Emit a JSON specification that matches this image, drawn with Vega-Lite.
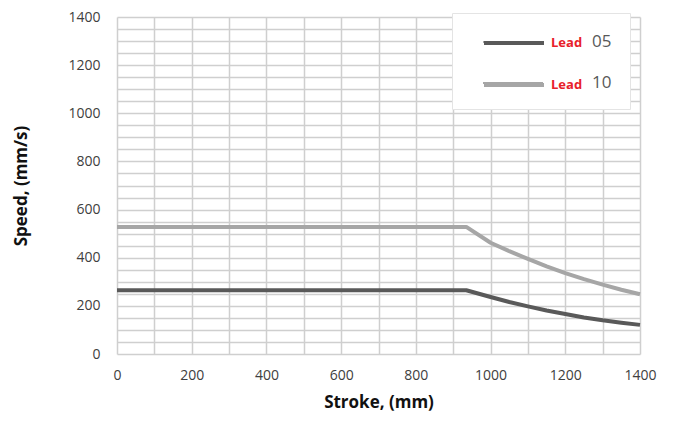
{
  "$schema": "https://vega.github.io/schema/vega-lite/v6.json",
  "width": 523,
  "height": 337,
  "autosize": "none",
  "padding": {"left": 117, "top": 17, "right": 35, "bottom": 70},
  "background": "white",
  "config": {
    "font": "Open Sans",
    "view": {"stroke": null}
  },
  "data": {
    "values": [
      {"series": "Lead 05", "num": "05", "stroke": 0, "speed": 265},
      {"series": "Lead 05", "num": "05", "stroke": 935, "speed": 265},
      {"series": "Lead 05", "num": "05", "stroke": 1000, "speed": 237},
      {"series": "Lead 05", "num": "05", "stroke": 1050, "speed": 216},
      {"series": "Lead 05", "num": "05", "stroke": 1100, "speed": 198},
      {"series": "Lead 05", "num": "05", "stroke": 1150, "speed": 181},
      {"series": "Lead 05", "num": "05", "stroke": 1200, "speed": 166},
      {"series": "Lead 05", "num": "05", "stroke": 1250, "speed": 152},
      {"series": "Lead 05", "num": "05", "stroke": 1300, "speed": 140},
      {"series": "Lead 05", "num": "05", "stroke": 1350, "speed": 130},
      {"series": "Lead 05", "num": "05", "stroke": 1400, "speed": 121},
      {"series": "Lead 10", "num": "10", "stroke": 0, "speed": 528},
      {"series": "Lead 10", "num": "10", "stroke": 935, "speed": 528},
      {"series": "Lead 10", "num": "10", "stroke": 1000, "speed": 462},
      {"series": "Lead 10", "num": "10", "stroke": 1050, "speed": 427},
      {"series": "Lead 10", "num": "10", "stroke": 1100, "speed": 395},
      {"series": "Lead 10", "num": "10", "stroke": 1150, "speed": 364},
      {"series": "Lead 10", "num": "10", "stroke": 1200, "speed": 336},
      {"series": "Lead 10", "num": "10", "stroke": 1250, "speed": 311},
      {"series": "Lead 10", "num": "10", "stroke": 1300, "speed": 288},
      {"series": "Lead 10", "num": "10", "stroke": 1350, "speed": 267},
      {"series": "Lead 10", "num": "10", "stroke": 1400, "speed": 248}
    ]
  },
  "mark": {"type": "line", "strokeWidth": 4, "interpolate": "linear", "strokeJoin": "round"},
  "encoding": {
    "x": {
      "field": "stroke", "type": "quantitative",
      "scale": {"domain": [0, 1400], "nice": false},
      "axis": {
        "title": "Stroke, (mm)",
        "values": [0,100,200,300,400,500,600,700,800,900,1000,1100,1200,1300,1400],
        "format": "d",
        "labelExpr": "datum.value % 200 === 0 ? datum.label : ''",
        "labelFlush": false,
        "domain": false, "ticks": false,
        "gridColor": "#cfcfcf", "gridWidth": 1.5,
        "labelFontSize": 14, "labelColor": "#404040", "labelPadding": 14,
        "titleFontSize": 17, "titleFontWeight": "bold", "titleColor": "#111111", "titlePadding": 12
      }
    },
    "y": {
      "field": "speed", "type": "quantitative",
      "scale": {"domain": [0, 1400], "nice": false},
      "axis": {
        "title": "Speed, (mm/s)",
        "values": [0,50,100,150,200,250,300,350,400,450,500,550,600,650,700,750,800,850,900,950,1000,1050,1100,1150,1200,1250,1300,1350,1400],
        "format": "d",
        "labelExpr": "datum.value % 200 === 0 ? datum.label : ''",
        "domain": false, "ticks": false,
        "gridColor": "#cfcfcf", "gridWidth": 1.5,
        "labelFontSize": 14, "labelColor": "#404040", "labelPadding": 17,
        "titleFontSize": 17, "titleFontWeight": "bold", "titleColor": "#111111", "titlePadding": 37
      }
    },
    "color": {
      "field": "series", "type": "nominal",
      "scale": {"domain": ["Lead 05", "Lead 10"], "range": ["#595959", "#a6a6a6"]},
      "legend": {
        "title": null,
        "orient": "none",
        "legendX": 335,
        "legendY": -4,
        "zindex": 2,
        "padding": 18,
        "symbolType": "M-3,0H3",
        "symbolSize": 400,
        "symbolStrokeWidth": 4,
        "symbolOffset": 32,
        "labelExpr": "'Lead'",
        "labelOffset": 25,
        "labelFontSize": 13,
        "labelFontWeight": "bold",
        "labelColor": "#e8202a",
        "rowPadding": 22
      }
    },
    "opacity": {
      "field": "num", "type": "nominal",
      "scale": {"domain": ["05", "10"], "range": [1, 1]},
      "legend": {
        "title": null,
        "orient": "none",
        "legendX": 335,
        "legendY": -4,
        "zindex": 1,
        "padding": 18,
        "fillColor": "white",
        "strokeColor": "#e4e4e4",
        "symbolType": "M-3,0H3",
        "symbolSize": 400,
        "symbolOpacity": 0,
        "symbolOffset": 32,
        "labelOffset": 68,
        "labelFontSize": 17,
        "labelColor": "#595959",
        "rowPadding": 22
      }
    }
  }
}
